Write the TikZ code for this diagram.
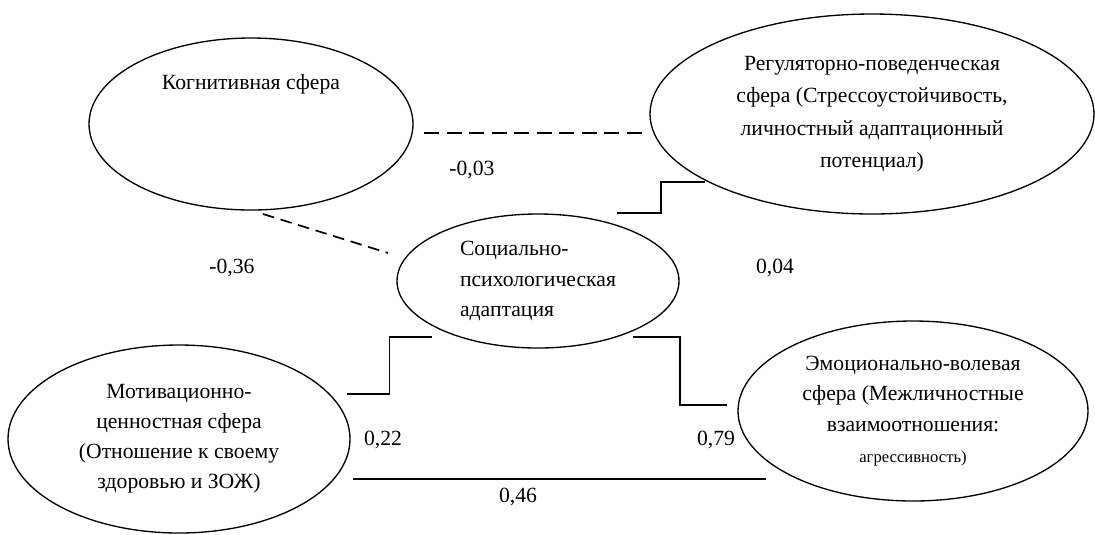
\documentclass[tikz,border=0pt]{standalone}
\usepackage{fontspec}
\setmainfont{Liberation Serif}
\usetikzlibrary{shapes.geometric,calc}

\begin{document}
\begin{tikzpicture}[
  x=0.6pt, y=-0.6pt,
  font=\fontsize{13}{18.5}\selectfont,
  sphere/.style={draw, ellipse, line width=0.8pt, inner sep=0pt, outer sep=0pt, align=center},
  val/.style={inner sep=0pt},
  link/.style={line width=1pt},
  neg/.style={link, dash pattern=on 9pt off 4.5pt}
]
\useasboundingbox (0,0) rectangle (1095,534);

% spheres
\node[sphere, minimum width=194.4pt, minimum height=103.2pt] (kog) at (251,124) {};
\node (kog-t) at (251,84) {Когнитивная сфера};
\node[sphere, font=\fontsize{13}{19.5}\selectfont, minimum width=266.4pt, minimum height=120pt] (reg) at (872,114)
  {Регуляторно-поведенческая\\сфера (Стрессоустойчивость,\\личностный адаптационный\\потенциал)};
\node[sphere, align=left, minimum width=169.2pt, minimum height=80.4pt] (soc) at (538,281)
  {Социально-\\психологическая\\адаптация};
\node[sphere, font=\fontsize{13}{18}\selectfont, minimum width=205.2pt, minimum height=112.8pt] (mot) at (179,439)
  {Мотивационно-\\ценностная сфера\\(Отношение к своему\\здоровью и ЗОЖ)};
\node[sphere, minimum width=210pt, minimum height=108pt] (emo) at (913,411)
  {Эмоционально-волевая\\сфера (Межличностные\\взаимоотношения:\\{\fontsize{10}{12}\selectfont агрессивность)}};

% ends of the links
\coordinate (kr-a) at ($(kog.east)+(11,9)$);
\coordinate (kr-b) at ($(reg.west)+(-3,19)$);
\coordinate (ks-a) at ($(kog.south)+(12,4)$);
\coordinate (ks-b) at ($(soc.west)+(-9,-28)$);
\coordinate (sr-a) at ($(soc.north)+(79,-1)$);
\coordinate (sr-b) at ($(reg.south)+(-167,-32)$);
\coordinate (ms-a) at ($(mot.east)+(-3,-45)$);
\coordinate (ms-b) at ($(soc.south)+(-106,-11)$);
\coordinate (se-a) at ($(soc.south)+(95,-11)$);
\coordinate (se-b) at ($(emo.west)+(-11,-6)$);
\coordinate (me-a) at ($(mot.east)+(3,40)$);
\coordinate (me-b) at ($(emo.west)+(28,68)$);

\draw[neg] (kr-a) -- (kr-b);
\draw[link, dash pattern=on 7pt off 4pt] (ks-a) -- (ks-b);
\draw[link] (sr-a) -| ($(sr-a)!.5!(sr-b)$) |- (sr-b);
\draw[link] (ms-a) -| ($(ms-a)!.5!(ms-b)$) |- (ms-b);
\draw[link] (se-a) -| ($(se-a)!.5!(se-b)$) |- (se-b);
\draw[link] (me-a) -- (me-b);

% coefficients
\node[val] (c-kr) at (472,170) {-0,03};
\node[val] (c-ks) at (232,268) {-0,36};
\node[val] (c-sr) at (775,268) {0,04};
\node[val] (c-ms) at (383,440) {0,22};
\node[val] (c-se) at (716,440) {0,79};
\node[val] (c-me) at (518,497) {0,46};
\end{tikzpicture}
\end{document}
